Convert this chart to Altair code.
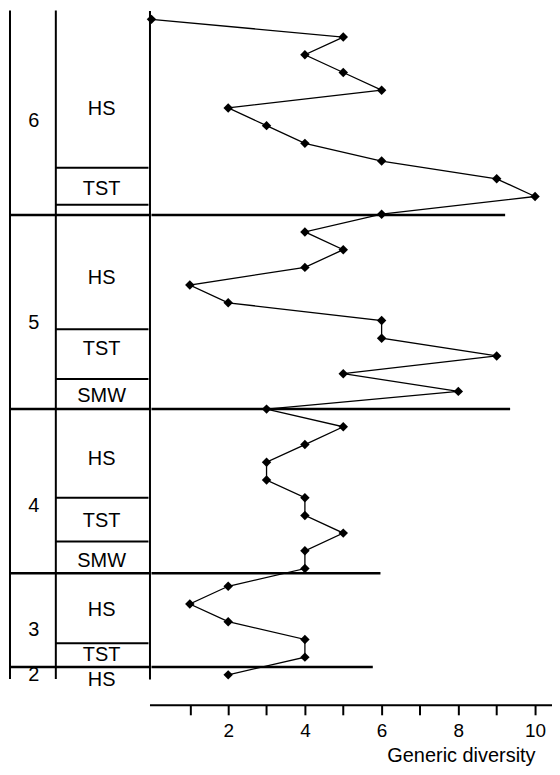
import altair as alt
import pandas as pd

# ---- data ----
diversity = [0, 5, 4, 5, 6, 2, 3, 4, 6, 9,
             10, 6, 4, 5, 4, 1, 2, 6, 6, 9,
             5, 8, 3, 5, 4, 3, 3, 4, 4, 5,
             4, 4, 2, 1, 2, 4, 4, 2]
level = list(range(len(diversity)))

seq_boundary_level = [11.05, 22.0, 31.27, 36.56]
seq_boundary_extent = [9.22, 9.35, 5.97, 5.77]
tract_boundary_level = [8.38, 10.46, 17.49, 20.30, 27.0, 29.47, 35.21]

sequence_names = ["6", "5", "4", "3", "2"]
sequence_label_level = [5.74, 17.15, 27.45, 34.48, 37.0]

tract_names = ["HS", "TST", "HS", "TST", "SMW", "HS", "TST", "SMW", "HS", "TST", "HS"]
tract_label_level = [5.06, 9.56, 14.62, 18.62, 21.26, 24.80, 28.29, 30.60, 33.35, 35.88, 37.29]

x_ticks = [1, 2, 3, 4, 5, 6, 7, 8, 9, 10]

FONT = "Liberation Sans"
H = 671
LEFT_W = 140
RIGHT_W = 404

yscale = alt.Scale(domain=[-0.506, 37.23], reverse=True, nice=False, zero=False)
xscale = alt.Scale(domain=[-0.052, 10.442], nice=False, zero=False)

pts = pd.DataFrame({"level": level, "diversity": diversity})
seq = pd.DataFrame({"level": seq_boundary_level, "start": [0] * len(seq_boundary_level),
                    "extent": seq_boundary_extent})
tracts = pd.DataFrame({"level": tract_boundary_level})
seq_lab = pd.DataFrame({"level": sequence_label_level, "name": sequence_names})
tract_lab = pd.DataFrame({"level": tract_label_level, "name": tract_names})
one = pd.DataFrame({"a": [0]})

# ---- right panel: diversity profile ----
x_axis = alt.Axis(
    values=x_ticks,
    labelExpr="datum.value % 2 == 0 ? datum.label : ''",
    grid=False, offset=26,
    domainColor="black", domainWidth=2,
    tickColor="black", tickWidth=2, tickSize=10,
    labelFont=FONT, labelFontSize=19, labelColor="black", labelPadding=7,
    title="Generic diversity", titleFont=FONT, titleFontSize=20,
    titleFontWeight="normal", titleColor="black",
    titleX=387, titleY=57, titleAlign="right", titleBaseline="alphabetic",
)
y_axis = alt.Axis(domain=True, domainColor="black", domainWidth=2,
                  ticks=False, labels=False, grid=False, title=None, minExtent=0)

seq_rules = alt.Chart(seq).mark_rule(color="black", strokeWidth=2.5).encode(
    x=alt.X("start:Q", scale=xscale, axis=x_axis),
    x2="extent:Q",
    y=alt.Y("level:Q", scale=yscale, axis=y_axis),
)
line = alt.Chart(pts).mark_line(color="black", strokeWidth=1.3).encode(
    x=alt.X("diversity:Q", scale=xscale, axis=x_axis),
    y=alt.Y("level:Q", scale=yscale, axis=y_axis),
    order="level:Q",
)
points = alt.Chart(pts).mark_point(shape="diamond", filled=True, color="black",
                                   size=90, opacity=1).encode(
    x=alt.X("diversity:Q", scale=xscale, axis=x_axis),
    y=alt.Y("level:Q", scale=yscale, axis=y_axis),
)
right = alt.layer(seq_rules, line, points).properties(width=RIGHT_W, height=H)

# ---- left panel: stratigraphic columns ----
vline_outer = alt.Chart(one).mark_rule(color="black", strokeWidth=2).encode(
    x=alt.value(0), y=alt.value(0), y2=alt.value(H))
vline_mid = alt.Chart(one).mark_rule(color="black", strokeWidth=2).encode(
    x=alt.value(46), y=alt.value(0), y2=alt.value(H))
left_seq = alt.Chart(seq).mark_rule(color="black", strokeWidth=2.5).encode(
    x=alt.value(0), x2=alt.value(LEFT_W),
    y=alt.Y("level:Q", scale=yscale, axis=None))
left_tracts = alt.Chart(tracts).mark_rule(color="black", strokeWidth=2).encode(
    x=alt.value(46), x2=alt.value(LEFT_W - 1),
    y=alt.Y("level:Q", scale=yscale, axis=None))
seq_text = alt.Chart(seq_lab).mark_text(font=FONT, fontSize=20, color="black",
                                        align="center", baseline="middle").encode(
    x=alt.value(24), y=alt.Y("level:Q", scale=yscale, axis=None), text="name:N")
tract_text = alt.Chart(tract_lab).mark_text(font=FONT, fontSize=20, color="black",
                                            align="center", baseline="middle").encode(
    x=alt.value(92), y=alt.Y("level:Q", scale=yscale, axis=None), text="name:N")

left = alt.layer(vline_outer, vline_mid, left_seq, left_tracts, seq_text,
                 tract_text).properties(width=LEFT_W, height=H)

chart = alt.hconcat(left, right, spacing=0, bounds="flush").properties(
    padding={"left": 0, "top": 0, "right": 0, "bottom": 0}, background="white"
).configure_view(stroke=None)

chart.save("out.html", embed_options={"renderer": "svg", "actions": False})
